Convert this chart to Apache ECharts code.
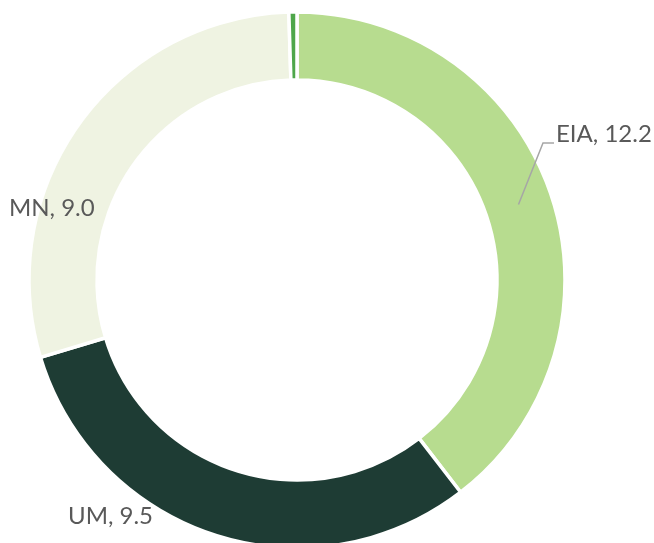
<!DOCTYPE html>
<html>
<head>
<meta charset="utf-8">
<script src="https://cdn.jsdelivr.net/npm/echarts@6/dist/echarts.min.js"></script>
<style>
  html, body { margin: 0; padding: 0; background: #fff; }
  #chart { width: 654px; height: 543px; }
</style>
</head>
<body>
<div id="chart"></div>
<script>
// data
const categories = ['EIA', 'UM', 'MN', 'Other'];
const values = [12.2, 9.5, 9.0, 0.15];
const colors = ['#b7dc8f', '#1e3c34', '#eff3e2', '#4ea64a'];

// geometry of the ring (border eats ~2px of each edge)
const cx = 297, cy = 280, rIn = 200, rOut = 268;

// where each label goes (left x, middle y); null = hidden
const labelSpots = [[556, 134], [68, 516], [9, 208], null];

const total = values.reduce((a, b) => a + b, 0);
function midAngle(i) {
  let before = 0;
  for (let k = 0; k < i; k++) before += values[k];
  return (before + values[i] / 2) / total * Math.PI * 2; // from top, clockwise
}

const chart = echarts.init(document.getElementById('chart'));
chart.setOption({
  animation: false,
  series: [
    {
      // the ring itself
      type: 'pie',
      z: 2,
      center: [cx, cy],
      radius: [rIn, rOut],
      startAngle: 90,
      silent: true,
      itemStyle: { borderColor: '#fff', borderWidth: 3.5 },
      label: { show: false },
      labelLine: { show: false },
      data: categories.map((name, i) => ({
        name: name, value: values[i], itemStyle: { color: colors[i] }
      }))
    },
    {
      // same ring, invisible, only to put labels + leader on top
      type: 'pie',
      z: 5,
      center: [cx, cy],
      radius: [rIn, rOut],
      startAngle: 90,
      silent: true,
      itemStyle: { color: 'rgba(0,0,0,0)', borderWidth: 0 },
      label: {
        show: true,
        position: 'outside',
        overflow: 'none',
        formatter: p => p.name + ', ' + p.value.toFixed(1),
        color: '#595959',
        fontFamily: 'Lato',
        fontSize: 24
      },
      labelLine: { show: false, lineStyle: { color: '#a6a6a6', width: 1.5 } },
      labelLayout: function (params) {
        const spot = labelSpots[params.dataIndex];
        if (!spot) return { x: -1000, y: -1000 };
        const out = { x: spot[0], y: spot[1], align: 'left', verticalAlign: 'middle' };
        if (params.dataIndex === 0) {
          const a = midAngle(0), rm = (rIn + rOut) / 2;
          const sx = cx + rm * Math.sin(a), sy = cy - rm * Math.cos(a);
          out.labelLinePoints = [[sx, sy], [spot[0] - 13, spot[1] + 9], [spot[0] - 2, spot[1] + 9]];
        }
        return out;
      },
      data: categories.map((name, i) => ({
        name: name,
        value: values[i],
        label: { show: i < 3 },
        labelLine: { show: i === 0 }
      }))
    }
  ]
});
</script>
</body>
</html>
